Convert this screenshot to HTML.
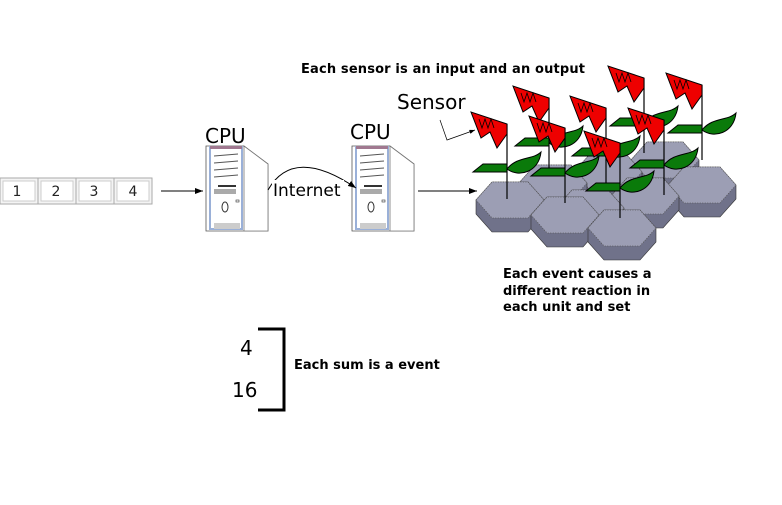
<!DOCTYPE html>
<html><head><style>
body{margin:0;background:#fff;width:782px;height:501px;overflow:hidden;font-family:"DejaVu Sans","Liberation Sans",sans-serif}
</style></head><body>
<svg width="782" height="501" viewBox="0 0 782 501" xmlns="http://www.w3.org/2000/svg" font-family="DejaVu Sans, Liberation Sans, sans-serif">
<defs>
<marker id="a" markerWidth="8" markerHeight="6" refX="8" refY="3" orient="auto"><path d="M0,0 L8,3 L0,6 Z" fill="#000"/></marker>
<g id="cpu">
<polygon points="0,0 38,0 62,18 62,85 38,85 0,85" fill="#fff" stroke="#555" stroke-width="0.8"/>
<polygon points="38,0 62,18 62,85 38,85" fill="#fff" stroke="#777" stroke-width="0.8"/>
<rect x="4" y="1" width="32" height="82" fill="#fff" stroke="#9ab0d8" stroke-width="2"/>
<rect x="4" y="0" width="32" height="3" fill="#a07890"/>
<line x1="8" y1="10" x2="32" y2="8" stroke="#555"/><line x1="8" y1="17" x2="32" y2="15" stroke="#555"/><line x1="8" y1="24" x2="32" y2="22" stroke="#555"/><line x1="8" y1="31" x2="32" y2="29" stroke="#555"/>
<rect x="12" y="39" width="18" height="2" fill="#333"/>
<rect x="8" y="43" width="22" height="5" fill="#aaa"/>
<ellipse cx="19" cy="61" rx="3" ry="5" fill="none" stroke="#333"/>
<rect x="30" y="54" width="3" height="2" fill="none" stroke="#333" stroke-width="0.6"/>
<rect x="8" y="77" width="26" height="6" fill="#ccc"/>
</g>
<g id="hex">
<polygon points="-34,0 -18,-18 18,-18 34,0 34,14 18,32 -18,32 -34,14" fill="#70728a" stroke="#333" stroke-width="0.6"/>
<polygon points="-34,0 -18,-18 18,-18 34,0 18,18 -18,18" fill="#9c9eb4" stroke="#555" stroke-width="0.8" stroke-dasharray="1,1.5"/>
</g>
<g id="flag">
<line x1="0" y1="0" x2="0" y2="75" stroke="#000" stroke-width="1.2"/>
<polygon points="0,0 -36,-12 -26,14 -17,8 -10,24 0,10" fill="#e00" stroke="#000" stroke-width="1"/>
<path d="M-28,-5 l3,9 l3,-9 l3,9 l3,-9 l3,9" fill="none" stroke="#000" stroke-width="0.8"/>
<polygon points="0,40 -24,40 -34,48 0,48" fill="#0a7a0a" stroke="#000" stroke-width="1"/>
<path d="M0,45 C10,32 26,36 34,28 C32,48 12,54 0,45 Z" fill="#0a7a0a" stroke="#000" stroke-width="1"/>
</g>
</defs>
<text x="301" y="73" font-size="13" font-weight="bold" textLength="284">Each sensor is an input and an output</text>
<g fill="#f4f4f4" stroke="#aaa">
<rect x="0" y="178" width="38" height="26"/><rect x="38" y="178" width="38" height="26"/><rect x="76" y="178" width="38" height="26"/><rect x="114" y="178" width="38" height="26"/>
</g>
<g fill="#fff" stroke="#ccc"><rect x="3" y="181" width="32" height="20"/><rect x="41" y="181" width="32" height="20"/><rect x="79" y="181" width="32" height="20"/><rect x="117" y="181" width="32" height="20"/></g>
<g font-size="14" text-anchor="middle" fill="#222"><text x="17" y="196">1</text><text x="56" y="196">2</text><text x="94" y="196">3</text><text x="133" y="196">4</text></g>
<line x1="161" y1="191" x2="203" y2="191" stroke="#000" marker-end="url(#a)"/>
<text x="205" y="143" font-size="20">CPU</text>
<use href="#cpu" x="206" y="146"/>
<text x="350" y="139" font-size="20">CPU</text>
<use href="#cpu" x="352" y="146"/>
<path d="M268,190 C285,160 315,160 356,188" fill="none" stroke="#000" marker-end="url(#a)"/>
<rect x="272" y="180" width="72" height="20" fill="#fff"/>
<text x="273" y="196" font-size="17">Internet</text>
<line x1="418" y1="191" x2="477" y2="191" stroke="#000" marker-end="url(#a)"/>
<text x="397" y="109" font-size="20">Sensor</text>
<path d="M440,120 L447,140 L475,130" fill="none" stroke="#000" stroke-width="0.7" marker-end="url(#a)"/>
<use href="#hex" x="665" y="160"/><use href="#hex" x="702" y="185"/>
<use href="#hex" x="608" y="172"/><use href="#hex" x="645" y="196"/>
<use href="#hex" x="553" y="183"/><use href="#hex" x="590" y="208"/>
<use href="#hex" x="510" y="200"/><use href="#hex" x="565" y="215"/><use href="#hex" x="622" y="228"/>
<use href="#flag" x="702" y="85"/>
<use href="#flag" x="644" y="78"/>
<use href="#flag" x="549" y="98"/>
<use href="#flag" x="606" y="108"/>
<use href="#flag" x="664" y="120"/>
<use href="#flag" x="507" y="124"/>
<use href="#flag" x="565" y="128"/>
<use href="#flag" x="620" y="143"/>
<g font-size="13" font-weight="bold"><text x="503" y="278">Each event causes a</text><text x="503" y="295">different reaction in</text><text x="503" y="311">each  unit and set</text></g>
<text x="240" y="355" font-size="20">4</text>
<text x="232" y="397" font-size="20">16</text>
<path d="M258,329 H284 V410 H258" fill="none" stroke="#000" stroke-width="3"/>
<text x="294" y="369" font-size="13" font-weight="bold">Each sum is a event</text>
</svg>
</body></html>
